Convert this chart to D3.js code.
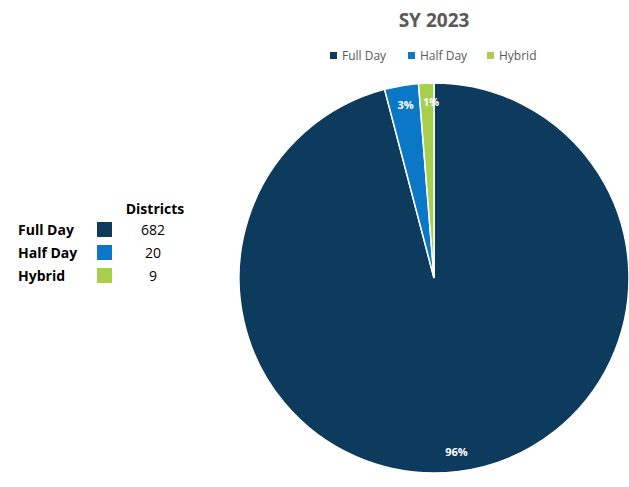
<!DOCTYPE html>
<html>
<head>
<meta charset="utf-8">
<script src="https://cdn.jsdelivr.net/npm/d3@7"></script>
<style>
  body { margin: 0; background: #fff; }
  svg { font-family: "Open Sans", "Liberation Sans", sans-serif; }
</style>
</head>
<body>
<div id="chart"></div>
<script>
// data
const categories = ["Full Day", "Half Day", "Hybrid"];
const districts = [682, 20, 9];
const colors = ["#0d3b5e", "#0b77c7", "#a7cf4c"];

const width = 629;
const height = 487;
const cx = 434, cy = 278, radius = 195;

const svg = d3.select("#chart")
  .append("svg")
  .attr("width", width)
  .attr("height", height);

const color = d3.scaleOrdinal().domain(categories).range(colors);

// title
svg.append("text")
  .attr("x", cx)
  .attr("y", 27)
  .attr("text-anchor", "middle")
  .style("font-size", "19px")
  .style("font-weight", "bold")
  .style("fill", "#595959")
  .text("SY 2023");

// top legend
const legendX = [330, 408, 487];
const topLegend = svg.selectAll("g.top-legend")
  .data(categories)
  .enter()
  .append("g")
  .attr("class", "top-legend")
  .attr("transform", (d, i) => `translate(${legendX[i]},56)`);

topLegend.append("rect")
  .attr("x", 0).attr("y", -4)
  .attr("width", 7).attr("height", 7)
  .attr("fill", (d) => color(d));

topLegend.append("text")
  .attr("x", 12).attr("y", 4)
  .style("font-size", "12px")
  .style("fill", "#595959")
  .text((d) => d);

// pie, starting at 12 o'clock going clockwise
const pie = d3.pie().sort(null).value((d) => d.value);
const arcs = pie(categories.map((c, i) => ({ name: c, value: districts[i] })));
const total = d3.sum(districts);

const arc = d3.arc().innerRadius(0).outerRadius(radius);

const g = svg.append("g").attr("transform", `translate(${cx},${cy})`);

g.selectAll("path")
  .data(arcs)
  .enter()
  .append("path")
  .attr("d", arc)
  .attr("fill", (d) => color(d.data.name))
  .attr("stroke", "#fff")
  .attr("stroke-width", 1.5);

// percentage labels (small slices nudged apart so they don't collide)
const labelShift = [0, 1, 4];
g.selectAll("text.pct")
  .data(arcs)
  .enter()
  .append("text")
  .attr("class", "pct")
  .attr("transform", (d, i) => {
    const a = (d.startAngle + d.endAngle) / 2;
    const r = radius * 0.9;
    const x = Math.sin(a) * r + labelShift[i], y = -Math.cos(a) * r;
    return `translate(${x},${y})`;
  })
  .attr("dy", "0.35em")
  .attr("text-anchor", "middle")
  .style("font-size", "11px")
  .style("font-weight", "bold")
  .style("fill", "#fff")
  .text((d) => Math.round((d.data.value / total) * 100) + "%");

// side table legend
svg.append("text")
  .attr("x", 155).attr("y", 214)
  .attr("text-anchor", "middle")
  .style("font-size", "14px")
  .style("font-weight", "bold")
  .style("fill", "#000")
  .text("Districts");

const rows = svg.selectAll("g.row")
  .data(categories)
  .enter()
  .append("g")
  .attr("class", "row")
  .attr("transform", (d, i) => `translate(0,${230 + i * 23})`);

rows.append("text")
  .attr("x", 18).attr("y", 5)
  .style("font-size", "14px")
  .style("font-weight", "bold")
  .style("fill", "#000")
  .text((d) => d);

rows.append("rect")
  .attr("x", 97).attr("y", -8)
  .attr("width", 15).attr("height", 15)
  .attr("fill", (d) => color(d));

rows.append("text")
  .attr("x", 153).attr("y", 5)
  .attr("text-anchor", "middle")
  .style("font-size", "14px")
  .style("fill", "#000")
  .text((d, i) => districts[i]);
</script>
</body>
</html>
